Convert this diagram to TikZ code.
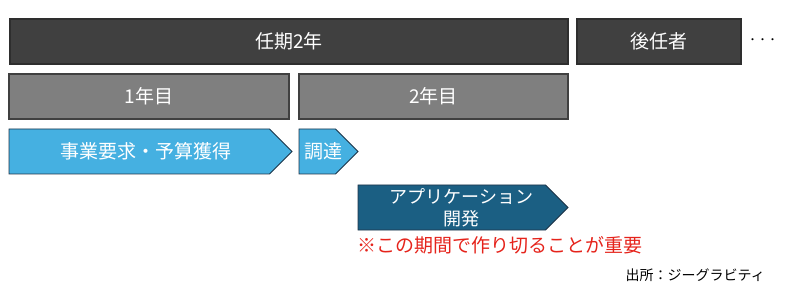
\documentclass[tikz,border=0pt]{standalone}
\usepackage{fontspec}
\setmainfont{Noto Sans CJK JP}
\usepackage{tikz}
\usetikzlibrary{positioning,shapes.symbols}
\definecolor{bardark}{HTML}{404040}
\definecolor{barline}{HTML}{2E2E2E}
\definecolor{yeargray}{HTML}{7F7F7F}
\definecolor{phaseblue}{HTML}{45B0E1}
\definecolor{phaseteal}{HTML}{1B5F83}
\definecolor{phaseline}{HTML}{1E3448}
\definecolor{noteRed}{HTML}{E5231B}
% text nudged right inside the arrow shapes
\newcommand{\nudge}[2]{\makebox[0pt]{\hspace*{#1}#2}}

\begin{document}
\begin{tikzpicture}[x=1pt, y=-1pt,
  bar/.style={draw=barline, line width=1.2pt, fill=bardark, text=white, anchor=north west,
    minimum height=45pt, inner sep=0pt, outer sep=0pt, font=\fontsize{19}{22}\selectfont},
  yearbox/.style={bar, draw=bardark, fill=yeargray, line width=1.6pt},
  phase/.style={shape=signal, signal to=east, signal pointer angle=90, draw=phaseline, line width=0.9pt,
    fill=phaseblue, text=white, anchor=north west, minimum height=45pt, inner sep=0pt, outer sep=0pt,
    align=center, font=\fontsize{19}{22}\selectfont}
]
  \useasboundingbox (0,0) rectangle (800,299);

  \node[bar, minimum width=558pt] (term) at (10,19) {任期2年};
  \node[bar, minimum width=164pt] (succ) at (577,19) {後任者};
  \node[right=3pt of succ, font=\fontsize{10}{10}\selectfont] (more) {・・・};

  \node[yearbox, minimum width=280pt] (y1) at (9,74) {1年目};
  \node[yearbox, minimum width=269pt] (y2) at (299,74) {2年目};

  \node[phase, minimum width=283pt] (req) at (9,129) {\nudge{14pt}{事業要求・予算獲得}};
  \node[phase, minimum width=59pt] (proc) at (299,129) {\nudge{12pt}{調達}};
  \node[phase, fill=phaseteal, minimum width=210pt, font=\fontsize{18}{22}\selectfont] (dev) at (358,185)
    {\nudge{20pt}{アプリケーション}\\\nudge{20pt}{開発}};

  \node[anchor=north west, inner sep=0pt, text=noteRed, font=\fontsize{19}{22}\selectfont] (note) at (357,236) {※この期間で作り切ることが重要};
  \node[anchor=east, inner sep=0pt, font=\fontsize{14}{16}\selectfont] (src) at (765,275) {出所：ジーグラビティ};
\end{tikzpicture}
\end{document}
